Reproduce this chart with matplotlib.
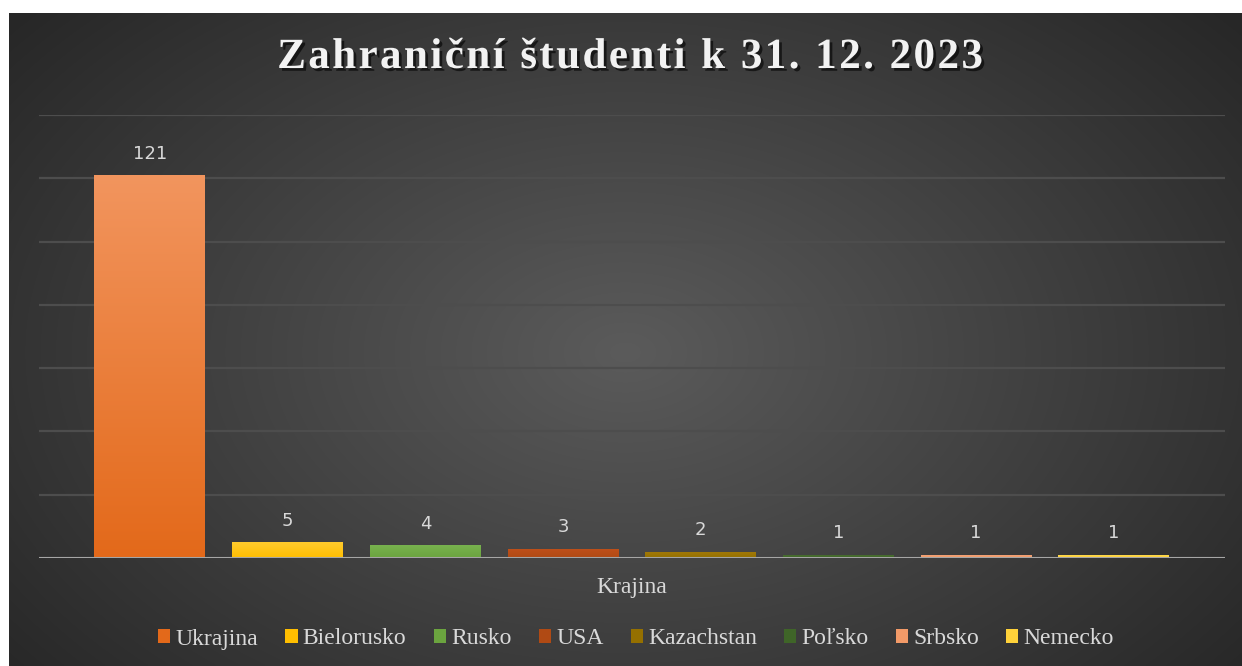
import numpy as np
import matplotlib
matplotlib.use("Agg")
import matplotlib.pyplot as plt
import matplotlib.patheffects as pe
from matplotlib.patches import Patch

countries = ["Ukrajina", "Bielorusko", "Rusko", "USA", "Kazachstan", "Poľsko", "Srbsko", "Nemecko"]
students = [121, 5, 4, 3, 2, 1, 1, 1]
colors_top = ["#F2955E", "#FFCB2E", "#78B24E", "#C0501A", "#A37A08", "#4A7030", "#F5A57A", "#FFDA50"]
colors_bot = ["#E3691A", "#FFBE00", "#6BA43F", "#B04A14", "#957000", "#3F6528", "#F29A68", "#FFD23A"]
title = "Zahraniční študenti k 31. 12. 2023"
xlabel = "Krajina"

W, H = 1242, 666
fig = plt.figure(figsize=(W / 100, H / 100), dpi=100)
fig.patch.set_facecolor("white")

# background radial gradient
bg = fig.add_axes([9 / W, 0, 1 - 9 / W, (H - 13) / H])
bg.set_axis_off()
yy, xx = np.mgrid[0:1:300j, 0:1:600j]
r = np.sqrt(((xx - 0.5) / 0.65) ** 2 + ((yy - 0.52) / 0.8) ** 2)
r = np.clip(r, 0, 1)
c0 = np.array([0x5b, 0x5b, 0x5b]) / 255
c1 = np.array([0x27, 0x27, 0x27]) / 255
img = c0[None, None, :] * (1 - r[..., None]) + c1[None, None, :] * r[..., None]
bg.imshow(img, aspect="auto", extent=[0, 1, 0, 1], interpolation="bilinear")
bg.set_xlim(0, 1)
bg.set_ylim(0, 1)

ax = fig.add_axes([39 / W, (H - 558) / H, (1225 - 39) / W, (558 - 115) / H])
ax.set_facecolor("none")
x = np.arange(len(countries))
for s in ax.spines.values():
    s.set_visible(False)
ax.set_yticks(np.arange(0, 141, 20))
ax.tick_params(left=False, bottom=False, labelleft=False, labelbottom=False)
ax.yaxis.grid(True, color="#4d4d4d", linewidth=1.6)
ax.set_axisbelow(True)

bars = ax.bar(x, students, width=0.806, color=colors_bot, zorder=2)
grad = np.linspace(0, 1, 256)[:, None]
for b, ct, cb in zip(bars, colors_top, colors_bot):
    t = np.array(matplotlib.colors.to_rgb(ct))
    bo = np.array(matplotlib.colors.to_rgb(cb))
    im = t[None, None, :] * grad[..., None] + bo[None, None, :] * (1 - grad[..., None])
    xb = b.get_x()
    gi = ax.imshow(im, extent=[xb, xb + b.get_width(), 0, b.get_height()], origin="lower",
                   aspect="auto", zorder=3, interpolation="bilinear")
    gi.set_clip_path(b)
ax.set_xlim(-0.806, 7.807)
ax.set_ylim(0, 140)
ax.axhline(0, color="#a6a6a6", linewidth=2.2, zorder=4)

for xi, v in zip(x, students):
    ax.annotate(str(v), (xi, v), xytext=(0, 9), textcoords="offset points", ha="center",
                va="bottom", color="#d9d9d9", fontsize=13, family="DejaVu Sans")

# title with letter spacing
renderer = fig.canvas.get_renderer()
tprops = dict(fontsize=31, fontweight="bold", family="Liberation Serif")
spacing = 2.45
widths = []
for i in range(len(title) + 1):
    t = fig.text(0, 0, title[:i] + "|", **tprops)
    bar_t = fig.text(0, 0, "|", **tprops)
    widths.append(t.get_window_extent(renderer).width - bar_t.get_window_extent(renderer).width)
    t.remove()
    bar_t.remove()
total = widths[-1] + spacing * (len(title) - 1)
x0 = 630 - total / 2
for i, ch in enumerate(title):
    px = x0 + widths[i] + spacing * i
    fig.text(px / W, (H - 58) / H, ch, ha="left", va="center", color="#f2f2f2",
             path_effects=[pe.withSimplePatchShadow(offset=(2, -2), shadow_rgbFace="black", alpha=0.6)],
             **tprops)

fig.text(632 / W, (H - 588) / H, xlabel, ha="center", va="center", fontsize=17,
         family="Liberation Serif", color="#d9d9d9")

handles = [Patch(facecolor=c, edgecolor="none") for c in colors_bot]
leg = fig.legend(handles, countries, loc="center", bbox_to_anchor=(636 / W, (H - 639) / H),
                 ncol=8, frameon=False, prop={"family": "Liberation Serif", "size": 17},
                 handlelength=0.52, handleheight=0.52, handletextpad=0.22, columnspacing=1.15,
                 labelcolor="#d9d9d9")

fig.savefig("out.png", dpi=100, facecolor="white")
